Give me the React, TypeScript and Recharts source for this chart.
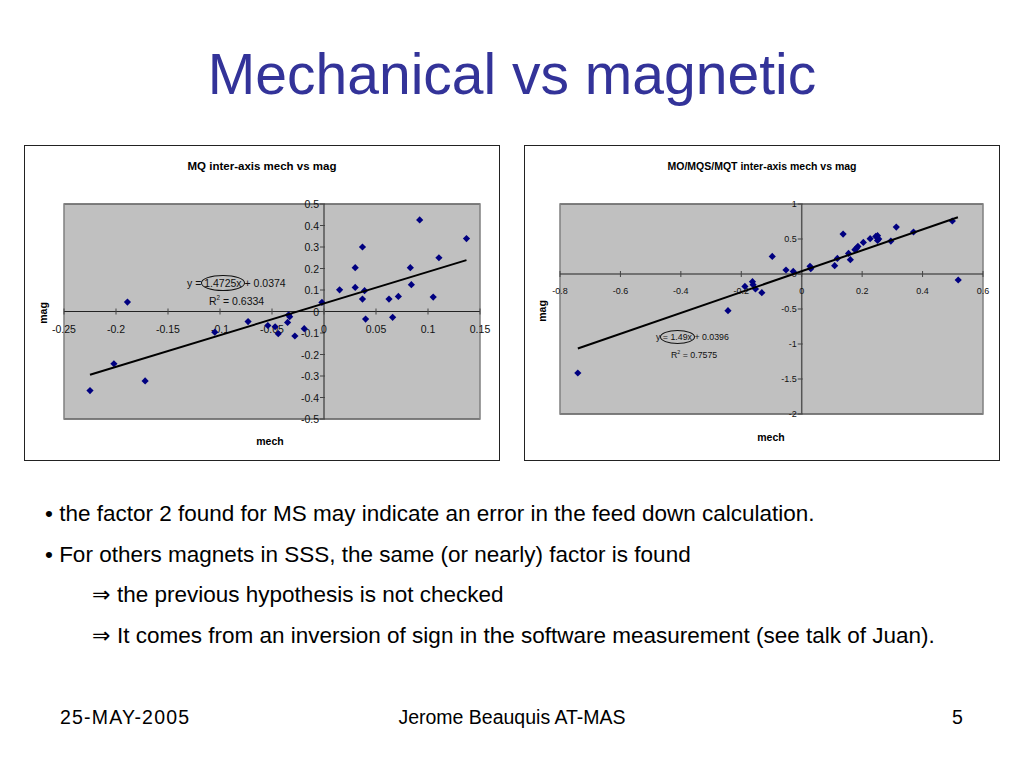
import {
  ScatterChart,
  Scatter,
  XAxis,
  YAxis,
  CartesianGrid,
  ReferenceLine,
  ReferenceArea,
} from "recharts";

const FONT = '"Liberation Sans", Arial, Helvetica, sans-serif';
const TITLE_BLUE = "#333399";
const MARKER = "#000080";

// MQ inter-axis (left chart)
const mqPoints = [
  { x: -0.225, y: -0.368 },
  { x: -0.202, y: -0.243 },
  { x: -0.189, y: 0.044 },
  { x: -0.172, y: -0.323 },
  { x: -0.105, y: -0.096 },
  { x: -0.073, y: -0.047 },
  { x: -0.054, y: -0.065 },
  { x: -0.047, y: -0.071 },
  { x: -0.044, y: -0.103 },
  { x: -0.035, y: -0.051 },
  { x: -0.033, y: -0.024 },
  { x: -0.034, y: -0.015 },
  { x: -0.028, y: -0.114 },
  { x: -0.019, y: -0.08 },
  { x: -0.002, y: 0.042 },
  { x: 0.015, y: 0.101 },
  { x: 0.03, y: 0.112 },
  { x: 0.03, y: 0.204 },
  { x: 0.037, y: 0.3 },
  { x: 0.039, y: 0.097 },
  { x: 0.037, y: 0.058 },
  { x: 0.04, y: -0.035 },
  { x: 0.0625, y: 0.058 },
  { x: 0.066, y: -0.027 },
  { x: 0.0715, y: 0.07 },
  { x: 0.083, y: 0.204 },
  { x: 0.084, y: 0.125 },
  { x: 0.092, y: 0.426 },
  { x: 0.105, y: 0.067 },
  { x: 0.1105, y: 0.25 },
  { x: 0.137, y: 0.339 },
];
const mqTrend = [
  { x: -0.225, y: -0.294 },
  { x: 0.137, y: 0.239 },
];
const mqXTicks = [-0.25, -0.2, -0.15, -0.1, -0.05, 0, 0.05, 0.1, 0.15];
const mqYTicks = [-0.5, -0.4, -0.3, -0.2, -0.1, 0, 0.1, 0.2, 0.3, 0.4, 0.5];

// MO/MQS/MQT inter-axis (right chart)
const moPoints = [
  { x: -0.741, y: -1.414 },
  { x: -0.244, y: -0.524 },
  { x: -0.188, y: -0.177 },
  { x: -0.163, y: -0.11 },
  { x: -0.161, y: -0.153 },
  { x: -0.153, y: -0.214 },
  { x: -0.132, y: -0.267 },
  { x: -0.0975, y: 0.251 },
  { x: -0.052, y: 0.057 },
  { x: -0.028, y: 0.037 },
  { x: 0.0275, y: 0.109 },
  { x: 0.03, y: 0.076 },
  { x: 0.109, y: 0.119 },
  { x: 0.118, y: 0.223 },
  { x: 0.137, y: 0.571 },
  { x: 0.155, y: 0.294 },
  { x: 0.161, y: 0.204 },
  { x: 0.176, y: 0.347 },
  { x: 0.181, y: 0.366 },
  { x: 0.186, y: 0.394 },
  { x: 0.204, y: 0.451 },
  { x: 0.2265, y: 0.504 },
  { x: 0.245, y: 0.537 },
  { x: 0.251, y: 0.547 },
  { x: 0.251, y: 0.48 },
  { x: 0.255, y: 0.5 },
  { x: 0.295, y: 0.471 },
  { x: 0.313, y: 0.671 },
  { x: 0.37, y: 0.6 },
  { x: 0.4985, y: 0.757 },
  { x: 0.518, y: -0.086 },
];
const moTrend = [
  { x: -0.741, y: -1.064 },
  { x: 0.517, y: 0.81 },
];
const moXTicks = [-0.8, -0.6, -0.4, -0.2, 0, 0.2, 0.4, 0.6];
const moYTicks = [-2, -1.5, -1, -0.5, 0, 0.5, 1];

const bullets = [
  "\u2022 the factor 2 found for MS may indicate an error in the feed down calculation.",
  "\u2022 For others magnets in SSS, the same (or nearly) factor is found",
];
const arrows = [
  "the previous hypothesis is not checked",
  "It comes from an inversion of sign in the software measurement (see talk of Juan).",
];

function diamond(props: any) {
  const { cx, cy } = props;
  if (cx == null || cy == null) return <g />;
  const r = 3.6;
  return (
    <polygon
      points={`${cx},${cy - r} ${cx + r},${cy} ${cx},${cy + r} ${cx - r},${cy}`}
      fill={MARKER}
    />
  );
}

function xTickShape(fontSize: number, gap: number) {
  return (props: any) => {
    const { cx, cy } = props;
    const label = props.payload?.label ?? props.label;
    if (cx == null || cy == null) return <g />;
    return (
      <g>
        <line x1={cx} x2={cx} y1={cy - 3} y2={cy + 3} stroke="#444" />
        <text
          x={cx}
          y={cy + gap}
          textAnchor="middle"
          dominantBaseline="central"
          fontSize={fontSize}
          fontFamily={FONT}
          fill="#111"
        >
          {label}
        </text>
      </g>
    );
  };
}

function yTickShape(fontSize: number) {
  return (props: any) => {
    const { cx, cy } = props;
    const label = props.payload?.label ?? props.label;
    if (cx == null || cy == null) return <g />;
    return (
      <g>
        <line x1={cx - 4} x2={cx + 1} y1={cy} y2={cy} stroke="#444" />
        <text
          x={cx - 5}
          y={cy}
          textAnchor="end"
          dominantBaseline="central"
          fontSize={fontSize}
          fontFamily={FONT}
          fill="#111"
        >
          {label}
        </text>
      </g>
    );
  };
}

interface PanelProps {
  left: number;
  title: string;
  titleSize: number;
  tickSize: number;
  points: { x: number; y: number }[];
  trend: { x: number; y: number }[];
  xTicks: number[];
  yTicks: number[];
  margin: { top: number; right: number; bottom: number; left: number };
  xLabelGap: number;
  mechPos: { x: number; y: number };
  magPos: { x: number; y: number };
  children?: any;
}

function Panel(p: PanelProps) {
  const xDomain = [p.xTicks[0], p.xTicks[p.xTicks.length - 1]];
  const yDomain = [p.yTicks[0], p.yTicks[p.yTicks.length - 1]];
  const xLabels = p.xTicks.map((t) => ({ x: t, y: 0, label: String(t) }));
  const yLabels = p.yTicks.map((t) => ({ x: 0, y: t, label: String(t) }));

  return (
    <div
      style={{
        position: "absolute",
        left: p.left,
        top: 145,
        width: 476,
        height: 316,
        border: "1px solid #222",
        boxSizing: "border-box",
        background: "#fff",
        fontFamily: FONT,
      }}
    >
      <ScatterChart width={474} height={314} margin={p.margin}>
        <CartesianGrid
          vertical={false}
          stroke="#000"
          fill="#c0c0c0"
          fillOpacity={1}
        />
        <XAxis
          type="number"
          dataKey="x"
          domain={xDomain}
          ticks={p.xTicks}
          height={0}
          tick={false}
          axisLine={false}
          tickLine={false}
        />
        <YAxis
          type="number"
          dataKey="y"
          domain={yDomain}
          ticks={p.yTicks}
          width={0}
          tick={false}
          axisLine={false}
          tickLine={false}
        />
        <ReferenceArea
          x1={xDomain[0]}
          x2={xDomain[1]}
          y1={yDomain[0]}
          y2={yDomain[1]}
          fill="none"
          stroke="#808080"
          strokeWidth={1.5}
        />
        <ReferenceLine x={0} stroke="#555" strokeWidth={1.5} />
        <ReferenceLine y={0} stroke="#222" />
        <Scatter
          data={yLabels}
          shape={yTickShape(p.tickSize)}
          isAnimationActive={false}
        />
        <Scatter
          data={xLabels}
          shape={xTickShape(p.tickSize, p.xLabelGap)}
          isAnimationActive={false}
        />
        <Scatter data={p.points} shape={diamond} isAnimationActive={false} />
        <Scatter
          data={p.trend}
          line={{ stroke: "#000", strokeWidth: 2 }}
          shape={() => <g />}
          isAnimationActive={false}
        />
      </ScatterChart>
      <div
        style={{
          position: "absolute",
          left: 0,
          top: 14,
          width: "100%",
          textAlign: "center",
          fontWeight: "bold",
          fontSize: p.titleSize,
          color: "#000",
        }}
      >
        {p.title}
      </div>
      <div
        style={{
          position: "absolute",
          left: p.mechPos.x - 40,
          top: p.mechPos.y - 7,
          width: 80,
          textAlign: "center",
          fontWeight: "bold",
          fontSize: 10.5,
          lineHeight: "14px",
        }}
      >
        mech
      </div>
      <div
        style={{
          position: "absolute",
          left: p.magPos.x - 20,
          top: p.magPos.y - 7,
          width: 40,
          textAlign: "center",
          fontWeight: "bold",
          fontSize: 10.5,
          lineHeight: "14px",
          transform: "rotate(-90deg)",
        }}
      >
        mag
      </div>
      {p.children}
    </div>
  );
}

function Equation({
  left,
  top,
  pre,
  circled,
  post,
  r2,
  r2Left,
  size,
}: {
  left: number;
  top: number;
  pre: string;
  circled: string;
  post: string;
  r2: string;
  r2Left: number;
  size: number;
}) {
  return (
    <>
      <div
        style={{
          position: "absolute",
          left,
          top,
          fontSize: size,
          lineHeight: "14px",
          whiteSpace: "pre",
          color: "#111",
        }}
      >
        {pre}
        <span
          style={{
            border: "1px solid #111",
            borderRadius: "50%",
            padding: "1px 2px",
            margin: "0 -3px",
          }}
        >
          {circled}
        </span>
        {post}
      </div>
      <div
        style={{
          position: "absolute",
          left: r2Left,
          top: top + 15,
          fontSize: size,
          lineHeight: "14px",
          whiteSpace: "pre",
          color: "#111",
        }}
      >
        R<sup style={{ fontSize: size * 0.6 }}>2</sup> = {r2}
      </div>
    </>
  );
}

export default function App() {
  return (
    <div
      style={{
        position: "absolute",
        left: 0,
        top: 0,
        width: 1024,
        height: 768,
        background: "#fff",
        fontFamily: FONT,
        color: "#000",
        overflow: "hidden",
      }}
    >
      <div
        style={{
          position: "absolute",
          left: 0,
          top: 46,
          width: 1024,
          textAlign: "center",
          fontSize: 57,
          lineHeight: "57px",
          color: TITLE_BLUE,
        }}
      >
        Mechanical vs magnetic
      </div>

      <Panel
        left={24}
        title="MQ inter-axis mech vs mag"
        titleSize={11.5}
        tickSize={10.5}
        points={mqPoints}
        trend={mqTrend}
        xTicks={mqXTicks}
        yTicks={mqYTicks}
        margin={{ top: 58, right: 19, bottom: 41, left: 39 }}
        xLabelGap={17}
        mechPos={{ x: 245, y: 295 }}
        magPos={{ x: 18, y: 167 }}
      >
        <Equation
          left={162}
          top={130}
          pre="y = "
          circled="1.4725x"
          post=" + 0.0374"
          r2="0.6334"
          r2Left={184}
          size={10.5}
        />
      </Panel>

      <Panel
        left={524}
        title="MO/MQS/MQT inter-axis mech vs mag"
        titleSize={10.5}
        tickSize={9}
        points={moPoints}
        trend={moTrend}
        xTicks={moXTicks}
        yTicks={moYTicks}
        margin={{ top: 58, right: 16, bottom: 46, left: 35 }}
        xLabelGap={17}
        mechPos={{ x: 246, y: 291 }}
        magPos={{ x: 17, y: 165 }}
      >
        <Equation
          left={131}
          top={184}
          pre="y "
          circled="= 1.49x"
          post=" + 0.0396"
          r2="0.7575"
          r2Left={146}
          size={8.8}
        />
      </Panel>

      {bullets.map((b, i) => (
        <div
          key={b}
          style={{
            position: "absolute",
            left: 45,
            top: 500 + i * 40.5,
            fontSize: 22.5,
            lineHeight: "27px",
            whiteSpace: "pre",
          }}
        >
          {b}
        </div>
      ))}
      {arrows.map((a, i) => (
        <div
          key={a}
          style={{
            position: "absolute",
            left: 92,
            top: 581 + i * 41,
            fontSize: 22.5,
            lineHeight: "27px",
            whiteSpace: "pre",
          }}
        >
          <span
            style={{
              display: "inline-block",
              width: 25,
              fontFamily: '"DejaVu Sans", sans-serif',
              fontSize: 22,
            }}
          >
            {"\u21D2"}
          </span>
          {a}
        </div>
      ))}

      <div
        style={{
          position: "absolute",
          left: 60,
          top: 705,
          fontSize: 19.5,
          lineHeight: "24px",
          letterSpacing: 1.2,
        }}
      >
        25-MAY-2005
      </div>
      <div
        style={{
          position: "absolute",
          left: 0,
          top: 705,
          width: 1024,
          textAlign: "center",
          fontSize: 19.5,
          lineHeight: "24px",
        }}
      >
        Jerome Beauquis AT-MAS
      </div>
      <div
        style={{
          position: "absolute",
          left: 952,
          top: 705,
          fontSize: 19.5,
          lineHeight: "24px",
        }}
      >
        5
      </div>
    </div>
  );
}
